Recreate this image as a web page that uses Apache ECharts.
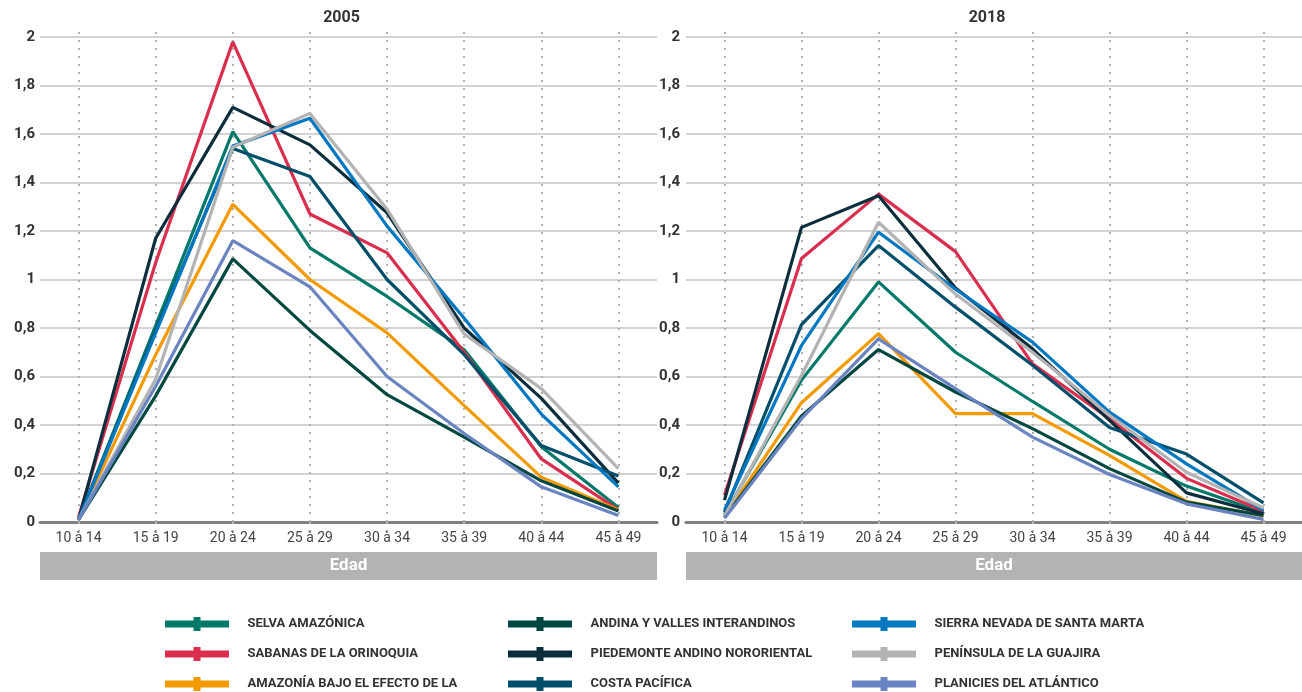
<!DOCTYPE html>
<html>
<head>
<meta charset="utf-8">
<script src="https://cdn.jsdelivr.net/npm/echarts@6/dist/echarts.min.js"></script>
<style>
html,body{margin:0;padding:0;background:#fff;}
#chart{width:1302px;height:692px;}
</style>
</head>
<body>
<div id="chart"></div>
<script>
// ---- data ----
const categories = ['10 à 14','15 à 19','20 à 24','25 à 29','30 à 34','35 à 39','40 à 44','45 à 49'];
const panelTitles = ['2005','2018'];
const yTicks = [0,0.2,0.4,0.6,0.8,1,1.2,1.4,1.6,1.8,2];
const xAxisTitle = 'Edad';

const seriesNames = [
  'SELVA AMAZÓNICA','SABANAS DE LA ORINOQUIA','AMAZONÍA BAJO EL EFECTO DE LA',
  'ANDINA Y VALLES INTERANDINOS','PIEDEMONTE ANDINO NORORIENTAL','COSTA PACÍFICA',
  'SIERRA NEVADA DE SANTA MARTA','PENÍNSULA DE LA GUAJIRA','PLANICIES DEL ATLÁNTICO'
];

// 2005
const selva2005      = [0.01, 0.81, 1.61, 1.13, 0.93, 0.71, 0.31, 0.06];
const sabanas2005    = [0.02, 1.07, 1.98, 1.27, 1.11, 0.70, 0.26, 0.05];
const amazonia2005   = [0.01, 0.69, 1.31, 1.00, 0.78, 0.48, 0.185, 0.05];
const andina2005     = [0.01, 0.52, 1.085, 0.79, 0.525, 0.35, 0.17, 0.045];
const piedemonte2005 = [0.01, 1.17, 1.71, 1.555, 1.275, 0.80, 0.51, 0.16];
const costa2005      = [0.01, 0.79, 1.54, 1.425, 1.00, 0.69, 0.315, 0.19];
const sierra2005     = [0.01, 0.78, 1.55, 1.665, 1.22, 0.84, 0.445, 0.145];
const peninsula2005  = [0.01, 0.59, 1.545, 1.685, 1.29, 0.775, 0.55, 0.22];
const planicies2005  = [0.01, 0.56, 1.16, 0.97, 0.60, 0.365, 0.145, 0.027];

// 2018
const selva2018      = [0.03, 0.585, 0.99, 0.70, 0.497, 0.30, 0.148, 0.038];
const sabanas2018    = [0.11, 1.087, 1.352, 1.115, 0.652, 0.426, 0.18, 0.044];
const amazonia2018   = [0.02, 0.492, 0.777, 0.447, 0.447, 0.275, 0.085, 0.025];
const andina2018     = [0.02, 0.437, 0.711, 0.536, 0.385, 0.22, 0.082, 0.027];
const piedemonte2018 = [0.09, 1.215, 1.345, 0.965, 0.714, 0.419, 0.12, 0.034];
const costa2018      = [0.04, 0.814, 1.14, 0.886, 0.646, 0.39, 0.28, 0.079];
const sierra2018     = [0.05, 0.728, 1.195, 0.96, 0.742, 0.453, 0.24, 0.048];
const peninsula2018  = [0.025, 0.604, 1.236, 0.94, 0.70, 0.44, 0.205, 0.058];
const planicies2018  = [0.015, 0.426, 0.755, 0.55, 0.35, 0.196, 0.075, 0.011];

const data2005 = [selva2005, sabanas2005, amazonia2005, andina2005, piedemonte2005, costa2005, sierra2005, peninsula2005, planicies2005];
const data2018 = [selva2018, sabanas2018, amazonia2018, andina2018, piedemonte2018, costa2018, sierra2018, peninsula2018, planicies2018];

// ---- styles ----
const colors = ['#00786a','#d92e4e','#f39a00','#00483f','#0c2e3c','#004f6a','#0077c1','#b3b3b3','#6a84c2'];
const FONT = 'Roboto, "Noto Sans", sans-serif';
const legendIcon = 'path://M0,3.5H64V10.5H0Z M28.5,0H35.5V14H28.5Z';

const grids = [
  {left: 40, top: 37, width: 617, height: 485},
  {left: 686, top: 37, width: 616, height: 485}
];

const xAxes = [];
const yAxes = [];
grids.forEach((g, i) => {
  xAxes.push({
    type: 'category', gridIndex: i, data: categories, boundaryGap: true,
    axisLine: {lineStyle: {color: '#808080', width: 3}},
    axisTick: {show: true, alignWithLabel: true, inside: true, length: 496,
      lineStyle: {color: '#b0b0b0', width: 2, type: [2, 6]}},
    axisLabel: {color: '#444', fontSize: 14, fontFamily: FONT, margin: 9},
    splitLine: {show: false}
  });
  xAxes.push({
    type: 'category', gridIndex: i, data: categories, boundaryGap: true, position: 'bottom', offset: 0,
    axisLine: {show: false},
    axisTick: {show: true, alignWithLabel: true, inside: false, length: 12,
      lineStyle: {color: '#b0b0b0', width: 2, type: [2, 6]}},
    axisLabel: {show: false},
    splitLine: {show: false}
  });
  yAxes.push({
    type: 'value', gridIndex: i, min: yTicks[0], max: yTicks[yTicks.length - 1],
    interval: yTicks[1] - yTicks[0],
    axisLine: {show: false}, axisTick: {show: false},
    axisLabel: {color: '#333', fontWeight: 'bold', fontSize: 15, fontFamily: FONT, margin: i === 0 ? 5 : 6,
      formatter: v => String(+v.toFixed(1)).replace('.', ',')},
    splitLine: {lineStyle: {color: '#c4c4c4', width: 1.5}}
  });
});

const series = [];
[data2005, data2018].forEach((set, gi) => {
  set.forEach((arr, si) => {
    series.push({
      name: seriesNames[si], type: 'line', xAxisIndex: gi * 2, yAxisIndex: gi,
      data: arr, symbol: 'rect', showSymbol: false,
      color: colors[si],
      lineStyle: {width: 3.2, color: colors[si]},
      emphasis: {disabled: true}, z: 3
    });
  });
});

// one legend per item: 3 columns x 3 rows
const legendCols = [165, 508, 852];
const legendRows = [617, 647, 677];
const legends = seriesNames.map((name, k) => ({
  orient: 'horizontal',
  left: legendCols[Math.floor(k / 3)],
  top: legendRows[k % 3],
  padding: 0,
  itemWidth: 65, itemHeight: 14, icon: legendIcon,
  selectedMode: false,
  data: [name],
  textStyle: {color: '#333', fontWeight: 'bold', fontSize: 13, fontFamily: FONT, padding: [0, 0, 0, 13]}
}));

const graphics = [];
grids.forEach((g, i) => {
  graphics.push({type: 'text', x: g.left + g.width / 2 - 7, y: 18,
    style: {text: panelTitles[i], align: 'center', verticalAlign: 'middle', textAlign: 'center', textVerticalAlign: 'middle',
      fill: '#333', font: 'bold 16px ' + FONT}});
  graphics.push({type: 'rect', shape: {x: g.left, y: 552, width: g.width, height: 28}, style: {fill: '#b3b3b3'}});
  graphics.push({type: 'text', x: g.left + g.width / 2, y: 566,
    style: {text: xAxisTitle, align: 'center', verticalAlign: 'middle', textAlign: 'center', textVerticalAlign: 'middle',
      fill: '#fff', font: 'bold 17px ' + FONT}});
});

const chart = echarts.init(document.getElementById('chart'), null, {renderer: 'canvas'});
chart.setOption({
  animation: false,
  backgroundColor: '#fff',
  grid: grids,
  xAxis: xAxes,
  yAxis: yAxes,
  legend: legends,
  series: series,
  graphic: graphics
});
</script>
</body>
</html>
